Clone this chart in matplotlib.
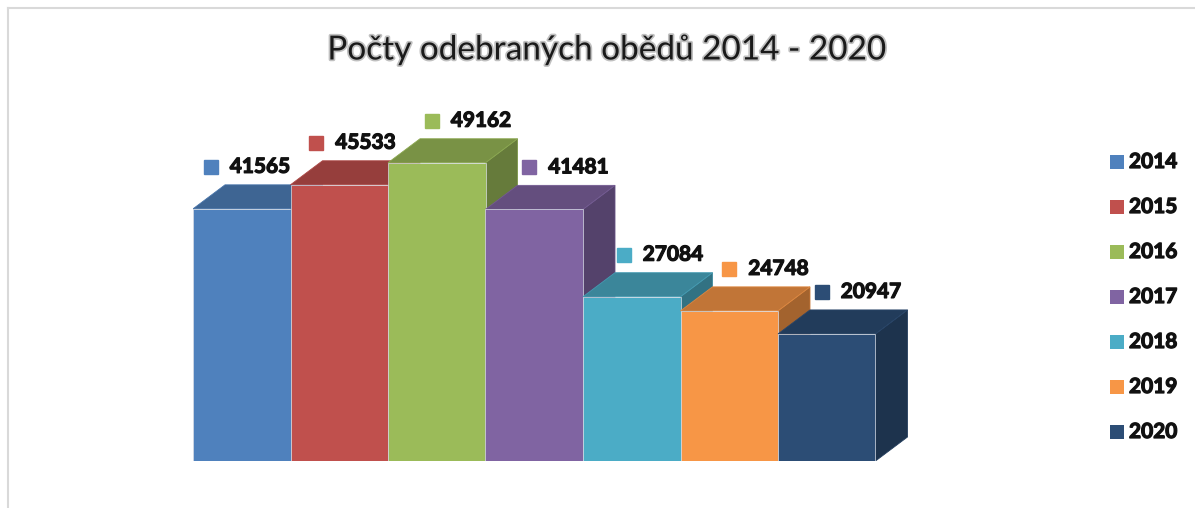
import numpy as np
import matplotlib
matplotlib.use('Agg')
import matplotlib.pyplot as plt
from matplotlib.patches import Polygon, Rectangle
from matplotlib.lines import Line2D
from matplotlib.transforms import offset_copy
import matplotlib.patheffects as pe

plt.rcParams['font.family'] = ['Lato', 'DejaVu Sans']

years = ['2014', '2015', '2016', '2017', '2018', '2019', '2020']
lunches = [41565, 45533, 49162, 41481, 27084, 24748, 20947]
colors = ['#4F81BD', '#C0504D', '#9BBB59', '#8064A2', '#4BACC6', '#F79646', '#2C4D75']
title = 'Počty odebraných obědů 2014 - 2020'

# small horizontal nudges (px) of the data labels, as Excel placed them
label_nudge = [-26, -18, 0, 0, -3, 5, 0]

W, H = 1195, 508
fig = plt.figure(figsize=(W / 100, H / 100), dpi=100)

# plot area in pixels: bars 97.5 px wide starting at x=193, baseline at y=461
bar_px = 97.5
xmax, ymax = 7.4, 60000
ax = fig.add_axes([193 / W, 47 / H, bar_px * xmax / W, 364 / H])
ax.set_xlim(0, xmax)
ax.set_ylim(0, ymax)
ax.axis('off')

# oblique depth of the pseudo 3d bars
ddx = 32 / bar_px
ddy = 24 / 364 * ymax

bold_fx = [pe.withStroke(linewidth=0.9, foreground='#111111')]


def shade(c, f):
    r, g, b = matplotlib.colors.to_rgb(c)
    return (r * f, g * f, b * f)


for i, (v, c) in enumerate(zip(lunches, colors)):
    z = 2 + i * 0.1
    side = Polygon([(i + 1, 0), (i + 1 + ddx, ddy), (i + 1 + ddx, v + ddy), (i + 1, v)],
                   closed=True, fc=shade(c, 0.66), ec=shade(c, 0.8), lw=0.6, zorder=z)
    top = Polygon([(i, v), (i + 1, v), (i + 1 + ddx, v + ddy), (i + ddx, v + ddy)],
                  closed=True, fc=shade(c, 0.78), ec=shade(c, 0.9), lw=0.6, zorder=z + 0.01)
    ax.add_patch(side)
    ax.add_patch(top)
    ax.bar(i, v, width=1, align='edge', color=c, edgecolor='#d8dde6', lw=0.5, zorder=z + 0.02)

    # data label: coloured square + bold number
    nx = label_nudge[i]
    mk = offset_copy(ax.transData, fig=fig, x=-5 + nx, y=18, units='dots')
    ax.plot(i + 0.5, v + ddy, marker='s', ms=10, color=c, transform=mk, clip_on=False, zorder=10)
    tx = offset_copy(ax.transData, fig=fig, x=14 + nx, y=18, units='dots')
    ax.text(i + 0.5, v + ddy, str(v), transform=tx, ha='left', va='center',
            fontsize=15, fontweight='bold', color='#111111', zorder=10, path_effects=bold_fx)

# title with a soft grey halo
fig.text(607 / W, 1 - 50 / H, title, ha='center', va='center', fontsize=24, color='#1a1a1a',
         path_effects=[pe.withStroke(linewidth=2.5, foreground='#c0c0c0')])

# legend drawn by hand on the right
for i, (yr, c) in enumerate(zip(years, colors)):
    yc = 1 - (162 + 45 * i) / H
    fig.add_artist(Rectangle((1110 / W, yc - 7 / H), 14 / W, 14 / H, transform=fig.transFigure,
                             fc=c, ec='none'))
    fig.text(1129 / W, yc, yr, ha='left', va='center', fontsize=15, fontweight='bold',
             color='#111111', path_effects=bold_fx)

# chart frame (top and left edges visible)
fig.add_artist(Line2D([8 / W, 1], [1 - 8 / H, 1 - 8 / H], transform=fig.transFigure, color='#d9d9d9', lw=1.5))
fig.add_artist(Line2D([8 / W, 8 / W], [0, 1 - 8 / H], transform=fig.transFigure, color='#d9d9d9', lw=1.5))

fig.savefig('out.png', dpi=100)
